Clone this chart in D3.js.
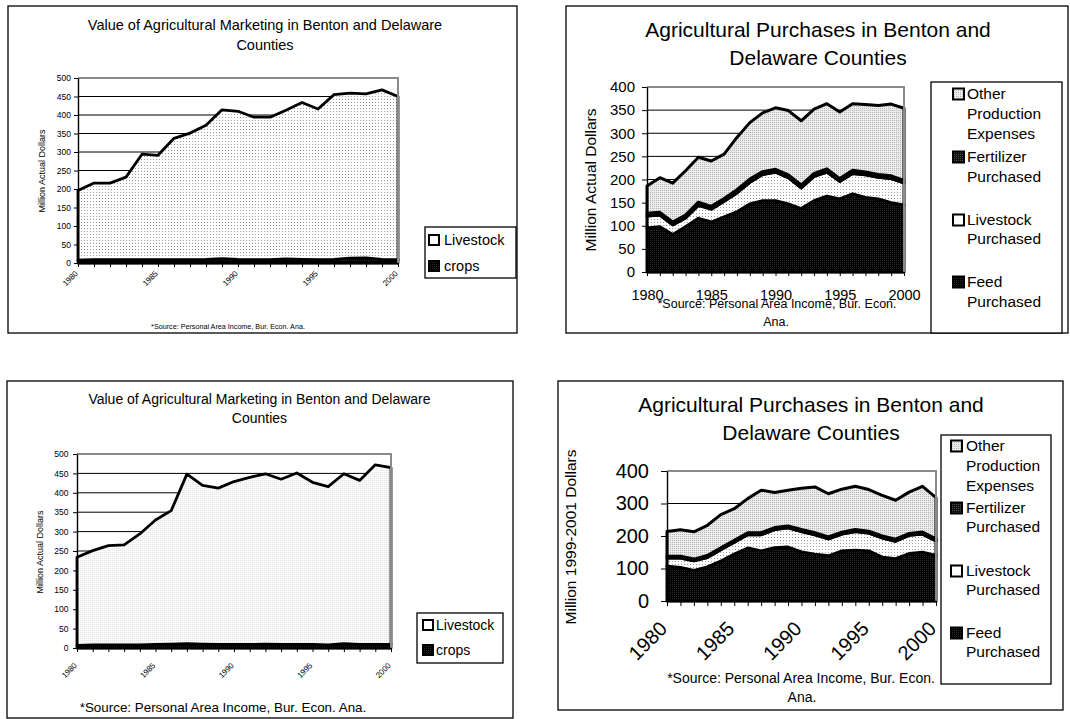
<!DOCTYPE html>
<html>
<head>
<meta charset="utf-8">
<script src="https://cdn.jsdelivr.net/npm/d3@7"></script>
<style>
  body { margin: 0; background: #fff; }
  svg { display: block; }
</style>
</head>
<body>
<svg id="chart" width="1070" height="719"></svg>
<script>
const years = [1980, 1981, 1982, 1983, 1984, 1985, 1986, 1987, 1988, 1989, 1990,
               1991, 1992, 1993, 1994, 1995, 1996, 1997, 1998, 1999, 2000];
const labelYears = [1980, 1985, 1990, 1995, 2000];

// marketing value, top left
const cropsA = [8, 9, 9, 9, 9, 9, 9, 9, 10, 12, 10, 9, 9, 11, 10, 9, 10, 13, 14, 10, 9];
const livestockA = [188, 207, 207, 223, 285, 282, 328, 342, 362, 402, 400, 385, 385, 402, 424, 407, 445, 446, 443, 458, 441];
// marketing value, bottom left
const cropsB = [7, 8, 8, 8, 8, 9, 10, 11, 10, 9, 9, 9, 10, 9, 9, 9, 8, 11, 9, 9, 9];
const livestockB = [227, 243, 256, 258, 286, 321, 344, 437, 409, 403, 420, 431, 439, 426, 442, 418, 408, 438, 423, 463, 456];
const marketTicks = [0, 50, 100, 150, 200, 250, 300, 350, 400, 450, 500];

// purchases, actual dollars (top right)
const feedA = [95, 98, 81, 98, 116, 108, 119, 130, 147, 154, 154, 147, 137, 154, 164, 158, 169, 161, 158, 150, 145];
const livePurchA = [26, 25, 21, 19, 28, 28, 34, 41, 47, 57, 62, 57, 45, 53, 52, 38, 44, 49, 47, 52, 48];
const fertA = [6, 6, 6, 6, 7, 6, 6, 7, 7, 6, 6, 6, 6, 6, 7, 6, 7, 6, 6, 6, 5];
const otherA = [59, 75, 84, 96, 97, 98, 96, 113, 122, 127, 133, 139, 139, 139, 141, 144, 144, 146, 149, 155, 156];
const purchTicksA = [0, 50, 100, 150, 200, 250, 300, 350, 400];

// purchases, 1999-2001 dollars (bottom right)
const feedB = [107, 103, 94, 105, 123, 144, 163, 154, 164, 166, 151, 144, 139, 154, 156, 154, 135, 130, 146, 150, 140];
const livePurchB = [25, 29, 30, 29, 35, 37, 41, 50, 56, 59, 63, 60, 52, 52, 58, 55, 59, 54, 56, 56, 45];
const fertB = [6, 6, 5, 6, 6, 6, 6, 6, 6, 6, 6, 6, 6, 6, 6, 6, 6, 6, 6, 6, 6];
const otherB = [76, 81, 84, 93, 102, 97, 105, 131, 108, 110, 127, 141, 133, 132, 133, 128, 125, 120, 127, 141, 127];
const purchTicksB = [0, 100, 200, 300, 400];

const marketTitle = ['Value of Agricultural Marketing in Benton and Delaware', 'Counties'];
const purchTitle = ['Agricultural Purchases in Benton and', 'Delaware Counties'];
const sourceNote = '*Source: Personal Area Income, Bur. Econ. Ana.';

const svg = d3.select('#chart').attr('font-family', '"Liberation Sans", Arial, Helvetica, sans-serif');
const defs = svg.append('defs');

function addPattern(id, size, bg, dot) {
  const p = defs.append('pattern').attr('id', id).attr('patternUnits', 'userSpaceOnUse')
    .attr('width', size).attr('height', size);
  p.append('rect').attr('width', size).attr('height', size).attr('fill', bg);
  p.append('rect').attr('width', 1).attr('height', 1).attr('fill', dot);
}
addPattern('pLive', 3, '#ffffff', '#9c9c9c');
addPattern('pLiveFaint', 2, '#fbfbfb', '#e2e2e2');
addPattern('pDark', 2, '#000000', '#2c2c2c');
addPattern('pFert', 2, '#111111', '#4a4a4a');
addPattern('pOther', 2, '#ececec', '#b4b4b4');

function drawPanel(c) {
  const g = svg.append('g');
  const [px0, px1, py0, py1] = c.plot;

  g.append('rect')
    .attr('x', c.frame[0]).attr('y', c.frame[1]).attr('width', c.frame[2]).attr('height', c.frame[3])
    .attr('fill', '#fff').attr('stroke', '#000').attr('stroke-width', 1.3);

  const x = d3.scaleLinear().domain([years[0], years[years.length - 1]]).range([px0, px1]);
  const y = d3.scaleLinear().domain([0, c.yTicks[c.yTicks.length - 1]]).range([py1, py0]);

  g.append('g').selectAll('line').data(c.grid).join('line')
    .attr('x1', px0).attr('x2', px1)
    .attr('y1', d => y(d)).attr('y2', d => y(d))
    .attr('stroke', '#000').attr('stroke-width', 1);

  const rows = years.map((yr, i) => {
    const r = { year: yr };
    c.series.forEach(s => { r[s.key] = s.values[i]; });
    return r;
  });
  const layers = d3.stack().keys(c.series.map(s => s.key))(rows);
  const area = d3.area().x(d => x(d.data.year)).y0(d => y(d[0])).y1(d => y(d[1]));

  g.append('g').selectAll('path').data(layers).join('path')
    .attr('d', area)
    .attr('fill', (d, i) => c.series[i].fill)
    .attr('stroke', '#000').attr('stroke-width', c.lineW)
    .attr('stroke-linejoin', 'round');

  // grey plot-area border, top and right
  g.append('path').attr('d', `M${px0},${py0}H${px1}V${py1}`)
    .attr('fill', 'none').attr('stroke', '#8a8a8a').attr('stroke-width', 2);

  const ya = g.append('g').attr('transform', `translate(${px0},0)`)
    .call(d3.axisLeft(y).tickValues(c.yTicks).tickSize(c.yTick).tickPadding(c.yPad).tickSizeOuter(0));
  ya.attr('font-family', null).attr('font-size', c.yFont);
  ya.select('.domain').attr('stroke-width', 1.4);
  ya.selectAll('text').attr('fill', '#000');

  const xa = g.append('g').attr('transform', `translate(0,${py1})`)
    .call(d3.axisBottom(x).tickValues(years).tickSize(c.xTick).tickSizeOuter(0)
      .tickFormat(d => labelYears.includes(d) ? d : ''));
  xa.attr('font-family', null).attr('font-size', c.xFont);
  xa.select('.domain').attr('stroke-width', 1.4);
  const xt = xa.selectAll('text').attr('fill', '#000');
  if (c.xRotate) {
    xt.attr('y', 0).attr('dy', '0.35em').attr('text-anchor', 'end')
      .attr('transform', `translate(${c.xOff[0]},${c.xOff[1]}) rotate(-45)`);
  } else {
    xt.attr('y', c.xOff[1]).attr('dy', '0.35em');
  }

  // title
  g.append('g').selectAll('text').data(c.title).join('text')
    .attr('x', c.titlePos[0]).attr('y', (d, i) => c.titlePos[1][i])
    .attr('dy', '0.35em').attr('text-anchor', 'middle')
    .attr('font-size', c.titleFont).text(d => d);

  // y label
  g.append('text')
    .attr('transform', `translate(${c.yLabel[0]},${c.yLabel[1]}) rotate(-90)`)
    .attr('dy', '0.35em').attr('text-anchor', 'middle')
    .attr('font-size', c.yLabelFont).text(c.yLabelText);

  // legend
  const lg = g.append('g');
  lg.append('rect')
    .attr('x', c.legend.box[0]).attr('y', c.legend.box[1])
    .attr('width', c.legend.box[2]).attr('height', c.legend.box[3])
    .attr('fill', '#fff').attr('stroke', '#000').attr('stroke-width', 1.3);
  c.legend.items.forEach(it => {
    const s = c.legend.sw;
    lg.append('rect')
      .attr('x', c.legend.swX).attr('y', it.cy[0] - s / 2)
      .attr('width', s).attr('height', s)
      .attr('fill', it.fill).attr('stroke', '#000').attr('stroke-width', 2);
    it.lines.forEach((t, i) => {
      lg.append('text').attr('x', c.legend.textX).attr('y', it.cy[i])
        .attr('dy', '0.35em').attr('font-size', c.legend.font).text(t);
    });
  });

  // source note
  g.append('g').selectAll('text').data(c.source).join('text')
    .attr('x', d => d.cx).attr('y', d => d.cy)
    .attr('dy', '0.35em').attr('text-anchor', 'middle')
    .attr('font-size', c.sourceFont).text(d => d.text);
}

const noteHead = sourceNote.slice(0, sourceNote.lastIndexOf(' '));
const noteTail = sourceNote.slice(sourceNote.lastIndexOf(' ') + 1);

// top left
drawPanel({
  frame: [8, 6, 509, 327],
  plot: [78, 398, 78, 263],
  yTicks: marketTicks, grid: [250, 300, 350, 400, 450],
  series: [
    { key: 'crops', values: cropsA, fill: 'url(#pDark)' },
    { key: 'livestock', values: livestockA, fill: 'url(#pLive)' }
  ],
  lineW: 2.8,
  yTick: 4, yPad: 3, yFont: 8.5,
  xTick: 4, xFont: 8, xRotate: true, xOff: [-2, 9],
  title: marketTitle, titlePos: [265, [25, 45]], titleFont: 14.5,
  yLabel: [42, 171], yLabelFont: 9, yLabelText: 'Million Actual Dollars',
  legend: {
    box: [425, 227, 91, 51], swX: 429, sw: 10, textX: 444, font: 14.5,
    items: [
      { lines: ['Livestock'], cy: [240], fill: '#fff' },
      { lines: ['crops'], cy: [266], fill: 'url(#pDark)' }
    ]
  },
  source: [{ text: sourceNote, cx: 228, cy: 326 }], sourceFont: 7.2
});

// top right
drawPanel({
  frame: [566, 6, 502, 327],
  plot: [647, 904, 87, 272],
  yTicks: purchTicksA, grid: [50, 100, 150, 200, 250, 300, 350],
  series: [
    { key: 'feed', values: feedA, fill: 'url(#pDark)' },
    { key: 'livestock', values: livePurchA, fill: 'url(#pLive)' },
    { key: 'fert', values: fertA, fill: 'url(#pFert)' },
    { key: 'other', values: otherA, fill: 'url(#pOther)' }
  ],
  lineW: 3,
  yTick: 5, yPad: 7, yFont: 15,
  xTick: 4, xFont: 14.5, xRotate: false, xOff: [0, 23],
  title: purchTitle, titlePos: [818, [30, 58]], titleFont: 21,
  yLabel: [591, 180], yLabelFont: 15.5, yLabelText: 'Million Actual Dollars',
  legend: {
    box: [931, 82, 131, 251], swX: 953, sw: 11, textX: 967, font: 15.5,
    items: [
      { lines: ['Other', 'Production', 'Expenses'], cy: [94, 114, 134], fill: 'url(#pOther)' },
      { lines: ['Fertilizer', 'Purchased'], cy: [157, 177], fill: 'url(#pFert)' },
      { lines: ['Livestock', 'Purchased'], cy: [220, 239], fill: '#fff' },
      { lines: ['Feed', 'Purchased'], cy: [282, 302], fill: 'url(#pDark)' }
    ]
  },
  source: [{ text: noteHead, cx: 777, cy: 304 }, { text: noteTail, cx: 776, cy: 322 }], sourceFont: 12.5
});

// bottom left
drawPanel({
  frame: [7, 381, 506, 337],
  plot: [77, 391, 454, 648],
  yTicks: marketTicks, grid: [250, 300, 350, 400, 450],
  series: [
    { key: 'crops', values: cropsB, fill: 'url(#pDark)' },
    { key: 'livestock', values: livestockB, fill: 'url(#pLiveFaint)' }
  ],
  lineW: 2.8,
  yTick: 4, yPad: 4.5, yFont: 8.5,
  xTick: 4, xFont: 8, xRotate: true, xOff: [-2, 16],
  title: marketTitle, titlePos: [259.5, [399, 418]], titleFont: 14,
  yLabel: [40, 552], yLabelFont: 9, yLabelText: 'Million Actual Dollars',
  legend: {
    box: [417, 613, 86, 50], swX: 423, sw: 10, textX: 436, font: 14,
    items: [
      { lines: ['Livestock'], cy: [625], fill: '#fff' },
      { lines: ['crops'], cy: [650], fill: 'url(#pDark)' }
    ]
  },
  source: [{ text: sourceNote, cx: 223, cy: 707 }], sourceFont: 13.4
});

// bottom right
drawPanel({
  frame: [558, 381, 505, 329],
  plot: [667, 936, 471, 601],
  yTicks: purchTicksB, grid: [100, 200, 300],
  series: [
    { key: 'feed', values: feedB, fill: 'url(#pDark)' },
    { key: 'livestock', values: livePurchB, fill: 'url(#pLive)' },
    { key: 'fert', values: fertB, fill: 'url(#pFert)' },
    { key: 'other', values: otherB, fill: 'url(#pOther)' }
  ],
  lineW: 3,
  yTick: 6, yPad: 12, yFont: 20,
  xTick: 5, xFont: 20, xRotate: true, xOff: [-4, 24],
  title: purchTitle, titlePos: [811, [405, 433]], titleFont: 21,
  yLabel: [571, 537], yLabelFont: 15.5, yLabelText: 'Million 1999-2001 Dollars',
  legend: {
    box: [941, 435, 110, 249], swX: 951, sw: 11, textX: 966, font: 15.5,
    items: [
      { lines: ['Other', 'Production', 'Expenses'], cy: [446, 466, 486], fill: 'url(#pOther)' },
      { lines: ['Fertilizer', 'Purchased'], cy: [508, 527], fill: 'url(#pFert)' },
      { lines: ['Livestock', 'Purchased'], cy: [571, 590], fill: '#fff' },
      { lines: ['Feed', 'Purchased'], cy: [633, 652], fill: 'url(#pDark)' }
    ]
  },
  source: [{ text: noteHead, cx: 801, cy: 678 }, { text: noteTail, cx: 802, cy: 697 }], sourceFont: 14
});
</script>
</body>
</html>
